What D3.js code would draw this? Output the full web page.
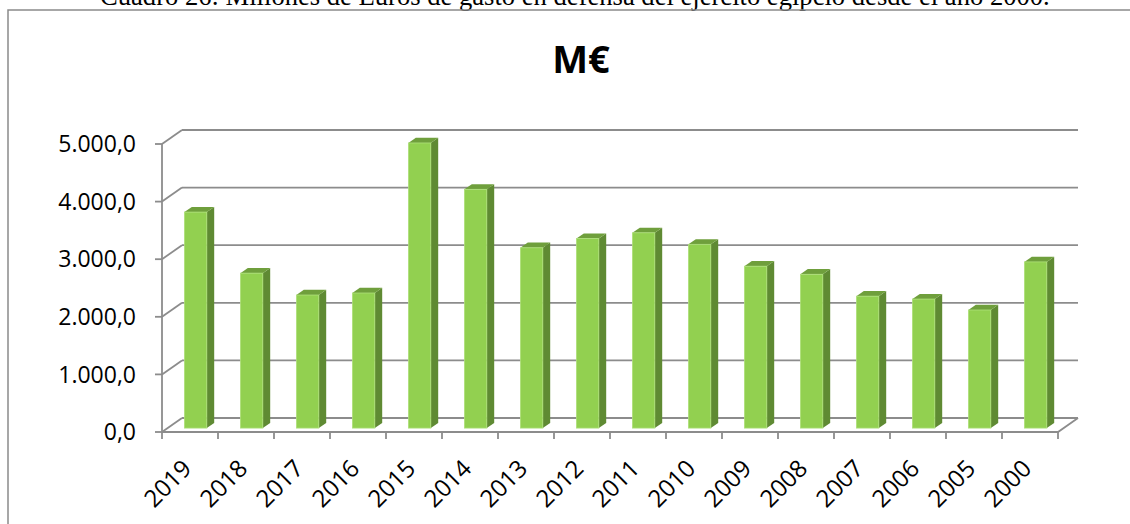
<!DOCTYPE html>
<html>
<head>
<meta charset="utf-8">
<script src="https://cdn.jsdelivr.net/npm/d3@7"></script>
<style>
  html, body { margin: 0; padding: 0; background: #fff; overflow: hidden; }
  svg { display: block; }
</style>
</head>
<body>
<svg id="chart" width="1130" height="524"></svg>
<script>
// data
const years = ['2019', '2018', '2017', '2016', '2015', '2014', '2013', '2012',
    '2011', '2010', '2009', '2008', '2007', '2006', '2005', '2000']
const spending = [3750, 2690, 2310, 2345, 4950, 4145, 3130, 3290,
    3390, 3190, 2810, 2670, 2290, 2240, 2050, 2885]
const yTicks = [0, 1000, 2000, 3000, 4000, 5000]
const caption = 'Cuadro 26: Millones de Euros de gasto en defensa del ejército egipcio desde el año 2000.'
const title = 'M€'

const svg = d3.select('#chart')

// fake 3d: depth of the floor in pixels
const depth = { dx: 20, dy: -14 }
const barDepth = [0.28, 0.65]

const x = d3.scaleBand().domain(years).range([162, 1058]).padding(0)
const y = d3.scaleLinear().domain([0, 5000]).range([432, 144])

const esLocale = d3.formatLocale({ decimal: ',', thousands: '.', grouping: [3], currency: ['', '€'] })
const fmt = esLocale.format(',.1f')

const grid = '#8c8c8c'

// caption, cut by the top of the page like in the source
const cap = svg.append('text')
    .attr('x', 100).attr('y', 5)
    .attr('font-family', '"Liberation Serif", "Times New Roman", serif')
    .attr('font-size', 20)
    .attr('fill', '#000')
    .text(caption)
const capLen = cap.node().getComputedTextLength()
cap.attr('font-size', 20 * 950 / capLen)

// chart frame
svg.append('rect')
    .attr('x', 8).attr('y', 10)
    .attr('width', 1170).attr('height', 600)
    .attr('fill', 'none').attr('stroke', '#8a8a8a').attr('stroke-width', 1.5)

svg.append('text')
    .attr('x', 581).attr('y', 73)
    .attr('text-anchor', 'middle')
    .attr('font-family', '"Open Sans", sans-serif')
    .attr('font-weight', 'bold')
    .attr('font-size', 38)
    .attr('fill', '#000')
    .text(title)

const [x0, x1] = x.range()
const gridGroup = svg.append('g').attr('class', 'grid')

// back wall lines + side wall diagonals
yTicks.forEach(v => {
    gridGroup.append('line')
        .attr('x1', x0 + depth.dx).attr('x2', x1 + depth.dx)
        .attr('y1', y(v) + depth.dy).attr('y2', y(v) + depth.dy)
        .attr('stroke', grid).attr('stroke-width', 1.8)
    gridGroup.append('line')
        .attr('x1', x0).attr('x2', x0 + depth.dx)
        .attr('y1', y(v)).attr('y2', y(v) + depth.dy)
        .attr('stroke', grid).attr('stroke-width', 1.8)
    gridGroup.append('line')
        .attr('x1', x0 - 7).attr('x2', x0)
        .attr('y1', y(v)).attr('y2', y(v))
        .attr('stroke', grid).attr('stroke-width', 1.8)
})

// front vertical axis
gridGroup.append('line')
    .attr('x1', x0).attr('x2', x0)
    .attr('y1', y(0)).attr('y2', y(5000))
    .attr('stroke', grid).attr('stroke-width', 1.8)

// floor front edge and right diagonal
gridGroup.append('path')
    .attr('d', `M${x0},${y(0)}L${x1},${y(0)}L${x1 + depth.dx},${y(0) + depth.dy}`)
    .attr('fill', 'none').attr('stroke', grid).attr('stroke-width', 1.8)

// category ticks
years.concat(['end']).forEach((c, i) => {
    const tx = i < years.length ? x(c) : x1
    gridGroup.append('line')
        .attr('x1', tx).attr('x2', tx)
        .attr('y1', y(0)).attr('y2', y(0) + 7)
        .attr('stroke', grid).attr('stroke-width', 1.8)
})

// y labels
svg.append('g').selectAll('text')
    .data(yTicks)
    .join('text')
    .attr('x', 136)
    .attr('y', d => y(d))
    .attr('dy', '0.36em')
    .attr('text-anchor', 'end')
    .attr('font-family', '"Open Sans", sans-serif')
    .attr('font-size', 23)
    .attr('fill', '#000')
    .text(d => fmt(d))

// x labels, rotated
svg.append('g').selectAll('text')
    .data(years)
    .join('text')
    .attr('text-anchor', 'end')
    .attr('transform', d => `translate(${x(d) + x.bandwidth() / 2 + 3},${y(0) + 38}) rotate(-45)`)
    .attr('font-family', '"Open Sans", sans-serif')
    .attr('font-size', 24)
    .attr('fill', '#000')
    .text(d => d)

// bars
const bw = x.bandwidth() * 0.4
const off0 = { x: depth.dx * barDepth[0], y: depth.dy * barDepth[0] }
const off1 = { x: depth.dx * barDepth[1], y: depth.dy * barDepth[1] }
const bars = svg.append('g').attr('class', 'bars')

years.forEach((c, i) => {
    const v = spending[i]
    const left = x(c) + (x.bandwidth() - bw) / 2 + off0.x
    const right = left + bw
    const top = y(v) + off0.y
    const bottom = y(0) + off0.y
    const ddx = off1.x - off0.x
    const ddy = off1.y - off0.y
    const g = bars.append('g')
    // side
    g.append('path')
        .attr('d', `M${right},${top}L${right + ddx},${top + ddy}L${right + ddx},${bottom + ddy}L${right},${bottom}Z`)
        .attr('fill', '#5f8a33')
    // top
    g.append('path')
        .attr('d', `M${left},${top}L${left + ddx},${top + ddy}L${right + ddx},${top + ddy}L${right},${top}Z`)
        .attr('fill', '#6f9f3c')
    // front
    g.append('rect')
        .attr('x', left).attr('y', top)
        .attr('width', bw).attr('height', bottom - top)
        .attr('fill', '#92d050')
        .attr('stroke', '#aee07a').attr('stroke-width', 0.8)
})
</script>
</body>
</html>
